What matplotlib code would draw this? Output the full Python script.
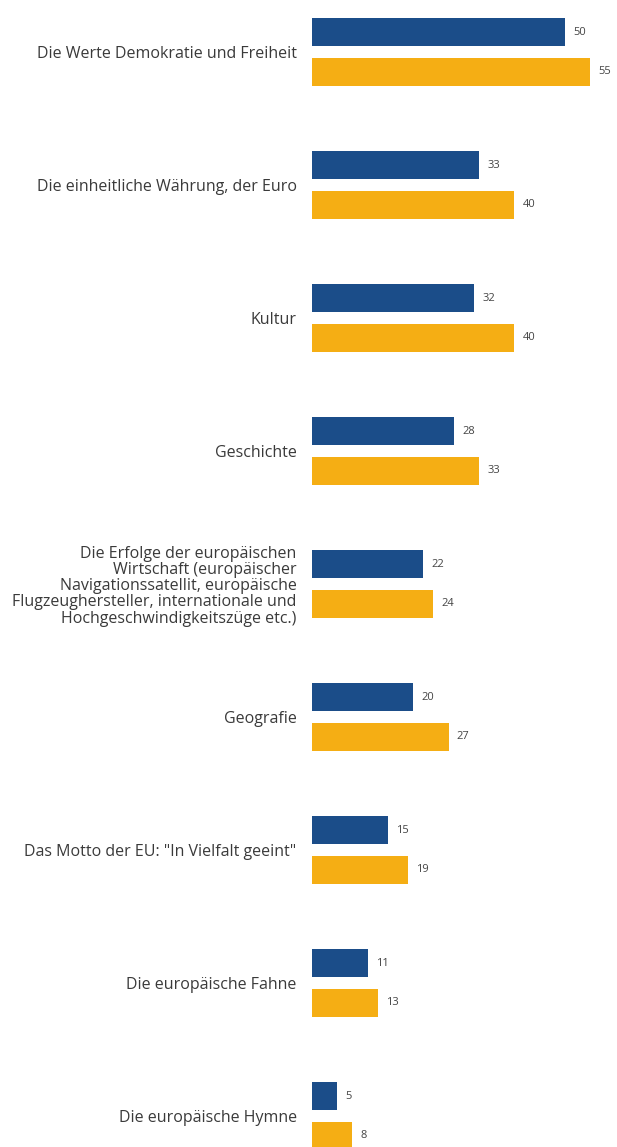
import numpy as np
import matplotlib.pyplot as plt

# Categories (top to bottom) and the two series
categories = [
    "Die Werte Demokratie und Freiheit",
    "Die einheitliche Währung, der Euro",
    "Kultur",
    "Geschichte",
    "Die Erfolge der europäischen\nWirtschaft (europäischer\nNavigationssatellit, europäische\nFlugzeughersteller, internationale und\nHochgeschwindigkeitszüge etc.)",
    "Geografie",
    "Das Motto der EU: \"In Vielfalt geeint\"",
    "Die europäische Fahne",
    "Die europäische Hymne",
]
series_blue = [50, 33, 32, 28, 22, 20, 15, 11, 5]
series_orange = [55, 40, 40, 33, 24, 27, 19, 13, 8]

blue = "#1b4d89"
orange = "#f5ae14"

plt.rcParams['font.family'] = ['Open Sans', 'DejaVu Sans']

fig = plt.figure(figsize=(6.17, 11.47), dpi=100)
ax = fig.add_axes([312 / 617, 0, 305 / 617, 1])

y = np.arange(len(categories))
off = 0.147
h = 0.21

b1 = ax.barh(y - off, series_blue, height=h, color=blue)
b2 = ax.barh(y + off, series_orange, height=h, color=orange)

ax.bar_label(b1, padding=6, fontsize=8, color="#444444")
ax.bar_label(b2, padding=6, fontsize=8, color="#444444")

ax.set_xlim(0, 60.3)
ax.set_ylim((1147 - 52) / 133, -52 / 133)

ax.set_yticks(y)
ax.set_yticklabels(categories, fontsize=11.5, color="#3a3a3a", linespacing=1.02)
ax.tick_params(axis="y", length=0, pad=11)
ax.set_xticks([])
for s in ax.spines.values():
    s.set_visible(False)

fig.savefig("out.png", dpi=100)
